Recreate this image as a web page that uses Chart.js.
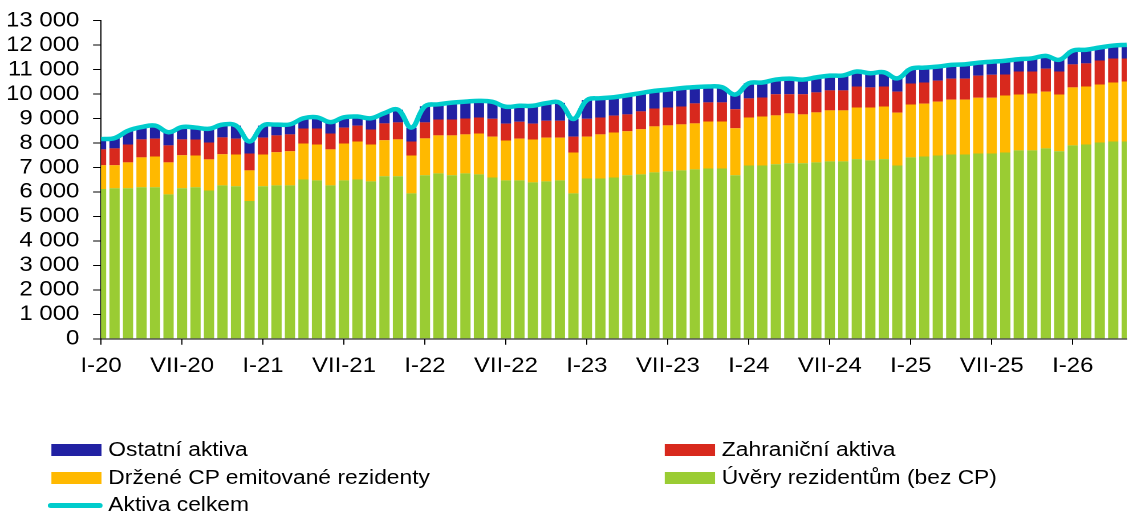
<!DOCTYPE html>
<html lang="cs">
<head>
<meta charset="utf-8">
<script src="https://cdn.jsdelivr.net/npm/chart.js@4.4.1/dist/chart.umd.min.js"></script>
<style>
html, body { margin: 0; padding: 0; background: #fff; overflow: hidden; }
/* the reference is stretched horizontally, so draw narrower and stretch */
#wrap { position: absolute; left: 0; top: 0; width: 997px; height: 528px; transform-origin: 0 0; transform: scaleX(1.1404); }
#chart { position: absolute; left: 0; top: -4px; }
.leg { position: absolute; height: 24px; line-height: 24px; font: 20px "Liberation Sans", Arial, sans-serif; color: #000; white-space: nowrap; }
.leg .sw { position: absolute; left: 0; }
.leg .tx { position: absolute; top: 0; }
</style>
</head>
<body>
<div id="wrap">
  <canvas id="chart" width="997" height="528"></canvas>
  <div id="legend"></div>
</div>
<script>
// Kategorie (měsíce)
var months = ['I', 'II', 'III', 'IV', 'V', 'VI', 'VII', 'VIII', 'IX', 'X', 'XI', 'XII'];
var years = ['20', '21', '22', '23', '24', '25', '26'];
var monthCount = 77;

// Řady (mld. Kč)
var uvery = [6120, 6150, 6150, 6190, 6190, 5900, 6150, 6190, 6060, 6270, 6230, 5630,
    6230, 6270, 6270, 6510, 6470, 6270, 6470, 6510, 6430, 6640, 6640, 5940,
    6680, 6760, 6680, 6760, 6720, 6590, 6470, 6470, 6390, 6430, 6470, 5940,
    6550, 6550, 6590, 6680, 6720, 6800, 6840, 6880, 6920, 6960, 6960, 6680,
    7080, 7080, 7130, 7170, 7170, 7210, 7250, 7250, 7340, 7290, 7340, 7080,
    7410, 7450, 7490, 7530, 7530, 7570, 7570, 7610, 7700, 7700, 7780, 7660,
    7900, 7940, 8020, 8060, 8060];
var drzeneCP = [970, 940, 1060, 1220, 1260, 1310, 1350, 1300, 1270, 1270, 1300, 1250,
    1300, 1350, 1390, 1470, 1470, 1470, 1510, 1550, 1510, 1470, 1510, 1550,
    1510, 1550, 1630, 1590, 1670, 1670, 1630, 1710, 1750, 1790, 1750, 1670,
    1710, 1800, 1840, 1800, 1840, 1880, 1880, 1880, 1880, 1920, 1920, 1920,
    1960, 2000, 2000, 2040, 2000, 2040, 2080, 2080, 2110, 2160, 2150, 2160,
    2160, 2160, 2200, 2240, 2240, 2280, 2280, 2330, 2280, 2320, 2320, 2320,
    2370, 2370, 2370, 2410, 2450];
var zahranicni = [650, 690, 730, 740, 730, 690, 650, 650, 690, 690, 650, 690,
    690, 690, 690, 610, 650, 650, 650, 650, 610, 690, 690, 570,
    650, 650, 650, 650, 650, 730, 690, 690, 650, 690, 690, 650,
    730, 690, 690, 690, 730, 730, 730, 730, 820, 780, 780, 780,
    780, 780, 860, 780, 820, 820, 820, 820, 860, 820, 820, 860,
    860, 860, 860, 860, 860, 900, 940, 860, 940, 900, 940, 940,
    940, 940, 980, 980, 940];
var ostatni = [420, 420, 560, 500, 530, 540, 500, 490, 560, 520, 530, 490,
    490, 440, 410, 420, 460, 460, 420, 370, 460, 420, 520, 570,
    660, 620, 690, 690, 680, 690, 690, 650, 730, 720, 730, 720,
    760, 790, 750, 780, 750, 720, 730, 750, 660, 650, 620, 600,
    620, 610, 600, 640, 600, 610, 600, 610, 610, 580, 580, 540,
    600, 610, 570, 560, 580, 530, 530, 560, 500, 540, 520, 480,
    560, 560, 530, 530, 560];
var celkem = [8160, 8200, 8500, 8650, 8710, 8440, 8650, 8630, 8580, 8750, 8710, 8060,
    8710, 8750, 8760, 9010, 9050, 8850, 9050, 9080, 9010, 9220, 9360, 8630,
    9500, 9580, 9650, 9690, 9720, 9680, 9480, 9520, 9520, 9630, 9640, 8980,
    9750, 9830, 9870, 9950, 10040, 10130, 10180, 10240, 10280, 10310, 10280, 9980,
    10440, 10470, 10590, 10630, 10590, 10680, 10750, 10760, 10920, 10850, 10890, 10640,
    11030, 11080, 11120, 11190, 11210, 11280, 11320, 11360, 11420, 11460, 11560, 11400,
    11770, 11810, 11900, 11980, 12010];

var labels = [];
for (var i = 0; i < monthCount; i++) {
    labels.push(months[i % 12] + '-' + years[Math.floor(i / 12)]);
}

var fontFamily = '"Liberation Sans", Arial, sans-serif';

function barSet(label, color, data) {
    return {
        type: 'bar',
        label: label,
        data: data,
        backgroundColor: color,
        borderWidth: 0,
        barPercentage: 0.76,
        categoryPercentage: 1,
        stack: 'aktiva',
        clip: 0
    };
}

var datasets = [
    barSet('Úvěry rezidentům (bez CP)', '#9ACC33', uvery),
    barSet('Držené CP emitované rezidenty', '#FFB900', drzeneCP),
    barSet('Zahraniční aktiva', '#D8291D', zahranicni),
    barSet('Ostatní aktiva', '#2121A3', ostatni),
    {
        type: 'line',
        label: 'Aktiva celkem',
        data: celkem,
        borderColor: '#00CCCC',
        backgroundColor: '#00CCCC',
        borderWidth: 4.5,
        tension: 0.4,
        pointRadius: 0,
        stack: 'celkem',
        order: -1,
        clip: { left: 0, right: 0, top: false, bottom: false }
    }
];

var chart = new Chart(document.getElementById('chart'), {
    type: 'bar',
    data: { labels: labels, datasets: datasets },
    options: {
        responsive: false,
        animation: false,
        devicePixelRatio: 2,
        layout: { padding: { left: 5, right: 8, top: 1, bottom: 136 } },
        plugins: { legend: { display: false }, tooltip: { enabled: false } },
        scales: {
            x: {
                stacked: true,
                offset: false,
                border: { color: '#000', width: 1 },
                grid: {
                    offset: false,
                    drawOnChartArea: false,
                    tickLength: 6,
                    color: '#000',
                    tickColor: function (ctx) { return ctx.index % 6 === 0 ? '#000' : 'rgba(0,0,0,0)'; }
                },
                ticks: {
                    autoSkip: false,
                    maxRotation: 0,
                    padding: 9,
                    color: '#000',
                    font: { family: fontFamily, size: 21 },
                    callback: function (v, i) { return i % 6 === 0 ? this.getLabelForValue(v) : ''; }
                }
            },
            y: {
                stacked: true,
                min: 0,
                max: 13000,
                afterFit: function (scale) { scale.width = 83.6; },
                border: { color: '#000', width: 1 },
                grid: { drawOnChartArea: false, tickLength: 7, color: '#000' },
                ticks: {
                    autoSkip: false,
                    stepSize: 1000,
                    padding: 12,
                    color: '#000',
                    font: { family: fontFamily, size: 21 },
                    callback: function (v) { return v >= 1000 ? Math.floor(v / 1000) + ' 000' : String(v); }
                }
            }
        }
    }
});

// legenda: dva sloupce jako v originálu
var legendItems = [
    { ds: 3, x: 45, tx: 95, y: 450 },
    { ds: 2, x: 583, tx: 633, y: 450 },
    { ds: 1, x: 45, tx: 95, y: 478 },
    { ds: 0, x: 583, tx: 633, y: 478 },
    { ds: 4, x: 42, tx: 95, y: 505 }
];
var legend = document.getElementById('legend');
legendItems.forEach(function (it) {
    var d = chart.data.datasets[it.ds];
    var el = document.createElement('div');
    el.className = 'leg';
    el.style.left = it.x + 'px';
    el.style.top = (it.y - 12) + 'px';
    var sw = document.createElement('span');
    sw.className = 'sw';
    if (d.type === 'line') {
        sw.style.top = '10px';
        sw.style.width = '48px';
        sw.style.height = '4.5px';
        sw.style.borderRadius = '2.5px';
        sw.style.background = d.borderColor;
    } else {
        sw.style.top = '6px';
        sw.style.width = '44px';
        sw.style.height = '12px';
        sw.style.background = d.backgroundColor;
    }
    var tx = document.createElement('span');
    tx.className = 'tx';
    tx.style.left = (it.tx - it.x) + 'px';
    tx.textContent = d.label;
    el.appendChild(sw);
    el.appendChild(tx);
    legend.appendChild(el);
});
</script>
</body>
</html>
